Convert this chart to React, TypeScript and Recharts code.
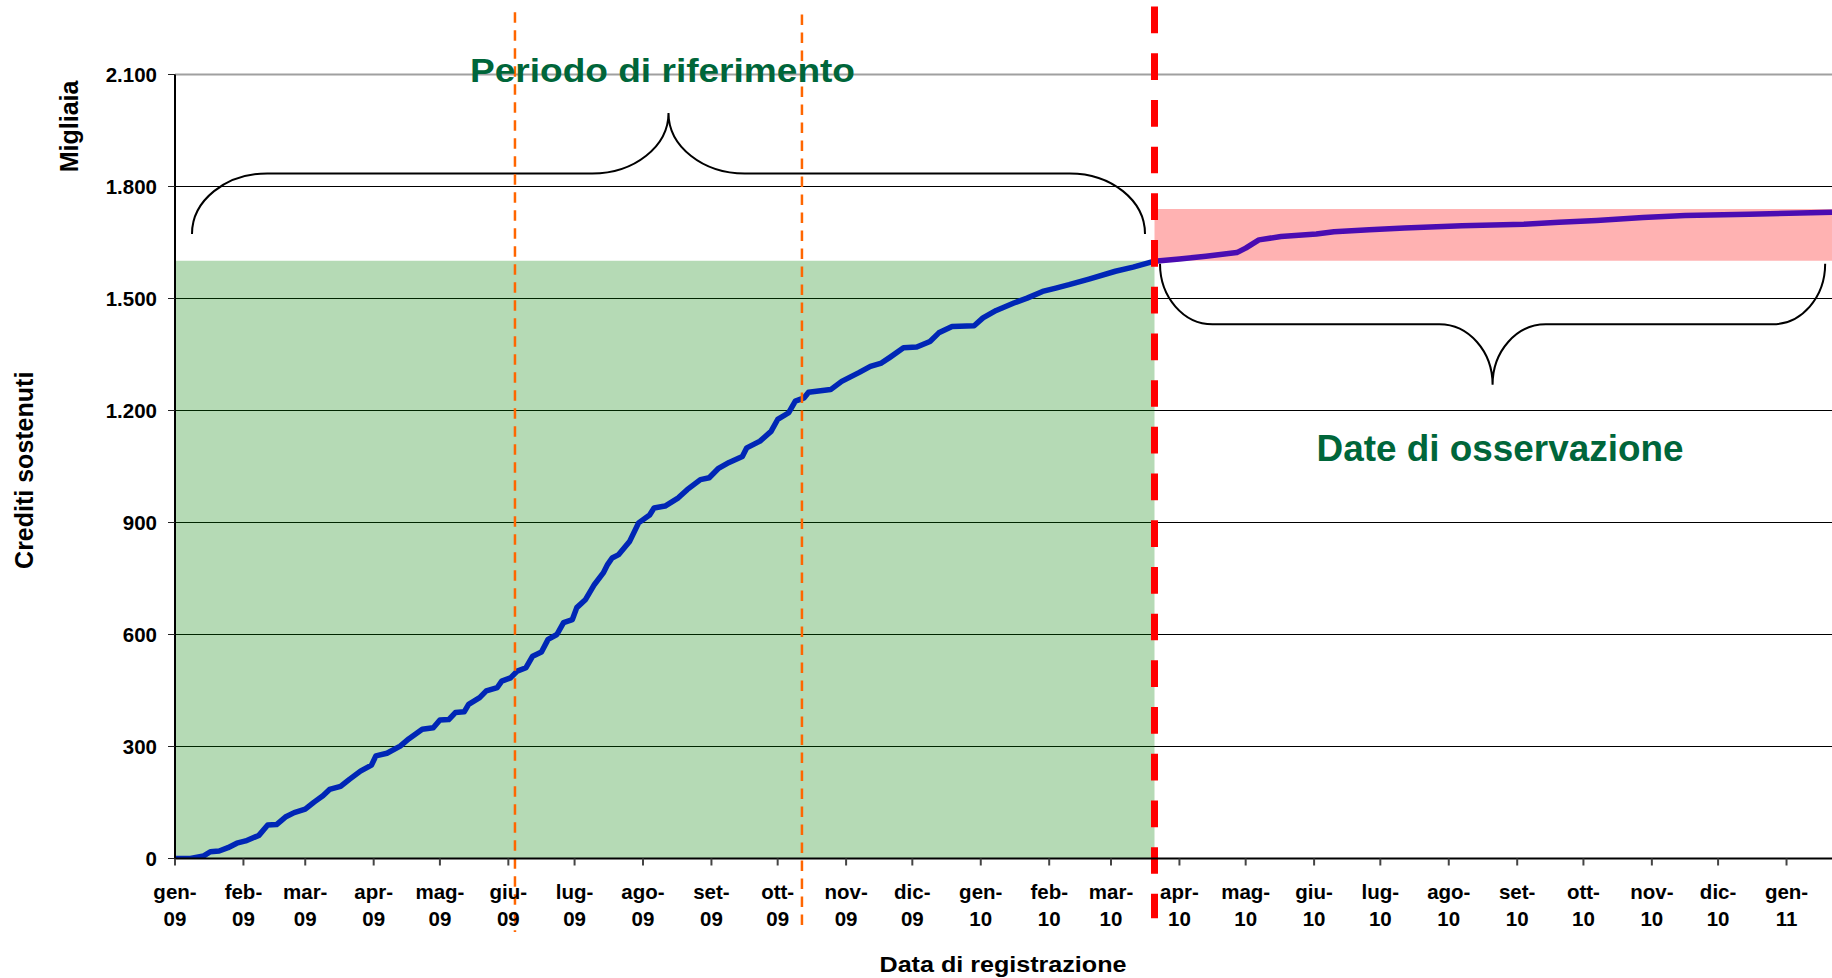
import React from 'react';
import {
  LineChart,
  Line,
  XAxis,
  YAxis,
  CartesianGrid,
  ReferenceArea,
  ReferenceLine,
} from 'recharts';

// ---- categories / ticks ----
// x is measured in days since 1 Jan 2009
const monthStartDays = [0, 31, 59, 90, 120, 151, 181, 212, 243, 273, 304, 334, 365, 396, 424, 455, 485, 516, 546, 577, 608, 638, 669, 699, 730];
const monthLabels = ['gen-', 'feb-', 'mar-', 'apr-', 'mag-', 'giu-', 'lug-', 'ago-', 'set-', 'ott-', 'nov-', 'dic-', 'gen-', 'feb-', 'mar-', 'apr-', 'mag-', 'giu-', 'lug-', 'ago-', 'set-', 'ott-', 'nov-', 'dic-', 'gen-'];
const yearLabels = ['09', '09', '09', '09', '09', '09', '09', '09', '09', '09', '09', '09', '10', '10', '10', '10', '10', '10', '10', '10', '10', '10', '10', '10', '11'];
const yTicks = [0, 300, 600, 900, 1200, 1500, 1800, 2100];

// ---- series: reference period (cumulative credits, thousands) ----
const refDays = [0, 7, 13, 16, 20, 24, 28, 32, 38, 42, 46, 50, 54, 59, 63, 67, 70, 75, 79, 84, 89, 91, 96, 102, 106, 112, 117, 120, 124, 127, 131, 133, 138, 141, 146, 148, 152, 155, 159, 162, 166, 169, 173, 176, 180, 182, 186, 190, 194, 196, 198, 201, 206, 210, 215, 217, 222, 228, 232, 238, 242, 246, 251, 257, 259, 265, 270, 273, 278, 281, 285, 287, 297, 302, 310, 315, 320, 324, 330, 336, 342, 346, 352, 362, 366, 372, 380, 386, 393, 399, 405, 414, 426, 434, 443.7];
const refValues = [0, 0, 7, 18, 20, 29, 41, 47, 62, 90, 91, 111, 123, 132, 151, 168, 185, 193, 212, 234, 250, 275, 282, 301, 321, 346, 350, 371, 372, 391, 393, 413, 431, 449, 458, 475, 484, 502, 511, 542, 553, 587, 600, 632, 640, 672, 694, 734, 765, 788, 805, 814, 850, 899, 920, 939, 944, 966, 988, 1015, 1020, 1044, 1061, 1077, 1100, 1118, 1144, 1176, 1194, 1225, 1234, 1249, 1256, 1278, 1302, 1318, 1327, 1343, 1368, 1370, 1385, 1408, 1425, 1427, 1448, 1468, 1488, 1501, 1519, 1528, 1537, 1552, 1573, 1584, 1600];

// ---- series: observation period ----
const obsDays = [443.7, 455, 467, 481, 485, 491, 501, 517, 525, 541, 557, 583, 611, 627, 644, 665, 684, 713, 741, 750.6];
const obsValues = [1600, 1606, 1613, 1623, 1635, 1657, 1666, 1673, 1679, 1684, 1689, 1695, 1699, 1704, 1709, 1717, 1722, 1726, 1730, 1731];

// ---- annotation values ----
const xMaxDay = 750.6;
const cutoffDay = 443.7;
const markerDays = [154, 284];
const refBandTop = 1601;
const obsBandTop = 1740;
const topBrace = { x1: 7.7, x2: 439.4, ends: 1673, tip: 1997 };
const lowBrace = { x1: 446.2, x2: 747.5, ends: 1593, tip: 1269 };

const refData = refDays.map((d, i) => ({ d, v: refValues[i] }));
const obsData = obsDays.map((d, i) => ({ d, v: obsValues[i] }));

const FONT = "'Liberation Sans', Arial, Helvetica, sans-serif";
const GREEN_TEXT = '#00663a';

const fmtThousands = (v: number) =>
  v >= 1000 ? `${Math.floor(v / 1000)}.${String(v % 1000).padStart(3, '0')}` : String(v);

const XTick = (props: any) => {
  const { x, y, payload } = props;
  const i = monthStartDays.indexOf(payload.value);
  if (i < 0) return null;
  return (
    <g>
      <text x={x} y={y + 33} textAnchor="middle" fontFamily={FONT} fontWeight="bold" fontSize={20.5} fill="#000">
        {monthLabels[i]}
      </text>
      <text x={x} y={y + 60} textAnchor="middle" fontFamily={FONT} fontWeight="bold" fontSize={20.5} fill="#000">
        {yearLabels[i]}
      </text>
    </g>
  );
};

const YTick = (props: any) => {
  const { x, y, payload } = props;
  return (
    <text x={x} y={y + 7.3} textAnchor="end" fontFamily={FONT} fontWeight="bold" fontSize={20.5} fill="#000">
      {fmtThousands(payload.value)}
    </text>
  );
};

// curly brace drawn inside the rectangle of a ReferenceArea
const makeBrace = (pointUp: boolean) => (props: any) => {
  const { x, y, width: w, height: h } = props;
  if (w == null || h == null) return <g />;
  const rx = w * 0.079;
  const mx = w * 0.08;
  const cx = x + w / 2;
  const yEnd = pointUp ? y + h : y;
  const yTip = pointUp ? y : y + h;
  const yMid = y + h / 2;
  const re = yEnd - yMid;
  const rt = yMid - yTip;
  const k = 0.552;
  const d = [
    `M ${x} ${yEnd}`,
    `C ${x} ${yEnd - k * re} ${x + (1 - k) * rx} ${yMid} ${x + rx} ${yMid}`,
    `L ${cx - mx} ${yMid}`,
    `C ${cx - mx + k * mx} ${yMid} ${cx} ${yTip + k * rt} ${cx} ${yTip}`,
    `C ${cx} ${yTip + k * rt} ${cx + mx - k * mx} ${yMid} ${cx + mx} ${yMid}`,
    `L ${x + w - rx} ${yMid}`,
    `C ${x + w - rx + k * rx} ${yMid} ${x + w} ${yEnd - k * re} ${x + w} ${yEnd}`,
  ].join(' ');
  return <path d={d} fill="none" stroke="#000" strokeWidth={2} />;
};

export default function App() {
  return (
    <div style={{ position: 'absolute', left: 0, top: 0, width: 1832, height: 978, background: '#fff', overflow: 'hidden' }}>
      <LineChart width={1832} height={978} margin={{ top: 74.5, right: 0, bottom: 0, left: 0 }}>
        <CartesianGrid vertical={false} stroke="#000" strokeWidth={1} strokeOpacity={1} />
        <XAxis
          dataKey="d"
          type="number"
          domain={[0, xMaxDay]}
          ticks={monthStartDays}
          interval={0}
          allowDataOverflow
          height={119.5}
          tickSize={7}
          tickMargin={0}
          tick={<XTick />}
          axisLine={{ stroke: '#000', strokeWidth: 2 }}
          tickLine={{ stroke: '#444', strokeWidth: 2 }}
        />
        <YAxis
          type="number"
          domain={[0, 2100]}
          ticks={yTicks}
          interval={0}
          allowDataOverflow
          width={175}
          tickSize={7}
          tickMargin={11}
          tick={<YTick />}
          axisLine={{ stroke: '#000', strokeWidth: 2 }}
          tickLine={{ stroke: '#222', strokeWidth: 1 }}
        />
        <ReferenceLine y={2100} stroke="#a0a0a0" strokeWidth={2} />
        <ReferenceArea x1={0} x2={cutoffDay} y1={0} y2={refBandTop} fill="#008000" fillOpacity={0.29} stroke="none" />
        <ReferenceArea x1={cutoffDay} x2={xMaxDay} y1={refBandTop} y2={obsBandTop} fill="#ff0000" fillOpacity={0.3} stroke="none" />
        <ReferenceArea x1={topBrace.x1} x2={topBrace.x2} y1={topBrace.ends} y2={topBrace.tip} shape={makeBrace(true)} />
        <ReferenceArea x1={lowBrace.x1} x2={lowBrace.x2} y1={lowBrace.tip} y2={lowBrace.ends} shape={makeBrace(false)} />
        <Line
          data={refData}
          dataKey="v"
          type="linear"
          stroke="#0026b6"
          strokeWidth={5.5}
          strokeLinejoin="round"
          dot={false}
          activeDot={false}
          isAnimationActive={false}
        />
        <Line
          data={obsData}
          dataKey="v"
          type="linear"
          stroke="#4a0cb2"
          strokeWidth={5.5}
          strokeLinejoin="round"
          dot={false}
          activeDot={false}
          isAnimationActive={false}
        />
        {markerDays.map((md, i) => (
          <ReferenceLine
            key={md}
            segment={[{ x: md, y: i === 0 ? 2267 : 2261 }, { x: md, y: -197 }]}
            stroke="#ff6600"
            strokeWidth={2.5}
            strokeDasharray="10.7 7.3"
            ifOverflow="visible"
          />
        ))}
        <ReferenceLine
          segment={[{ x: cutoffDay, y: 2282 }, { x: cutoffDay, y: -160 }]}
          stroke="#ff0000"
          strokeWidth={7}
          strokeDasharray="26.7 20"
          ifOverflow="visible"
        />
      </LineChart>
      <svg width={1832} height={978} style={{ position: 'absolute', left: 0, top: 0, pointerEvents: 'none' }}>
        <text x={662.5} y={82} textAnchor="middle" fontFamily={FONT} fontWeight="bold" fontSize={34} fill={GREEN_TEXT} textLength={385} lengthAdjust="spacingAndGlyphs">
          Periodo di riferimento
        </text>
        <text x={1500} y={461} textAnchor="middle" fontFamily={FONT} fontWeight="bold" fontSize={36} fill={GREEN_TEXT} textLength={367} lengthAdjust="spacingAndGlyphs">
          Date di osservazione
        </text>
        <text x={1003} y={971.5} textAnchor="middle" fontFamily={FONT} fontWeight="bold" fontSize={22.5} fill="#000" textLength={247} lengthAdjust="spacingAndGlyphs">
          Data di registrazione
        </text>
        <text x={78.5} y={126.4} textAnchor="middle" fontFamily={FONT} fontWeight="bold" fontSize={25} fill="#000" transform="rotate(-90 78.5 126.4)">
          Migliaia
        </text>
        <text x={33.3} y={470.3} textAnchor="middle" fontFamily={FONT} fontWeight="bold" fontSize={25} fill="#000" transform="rotate(-90 33.3 470.3)">
          Crediti sostenuti
        </text>
      </svg>
    </div>
  );
}
